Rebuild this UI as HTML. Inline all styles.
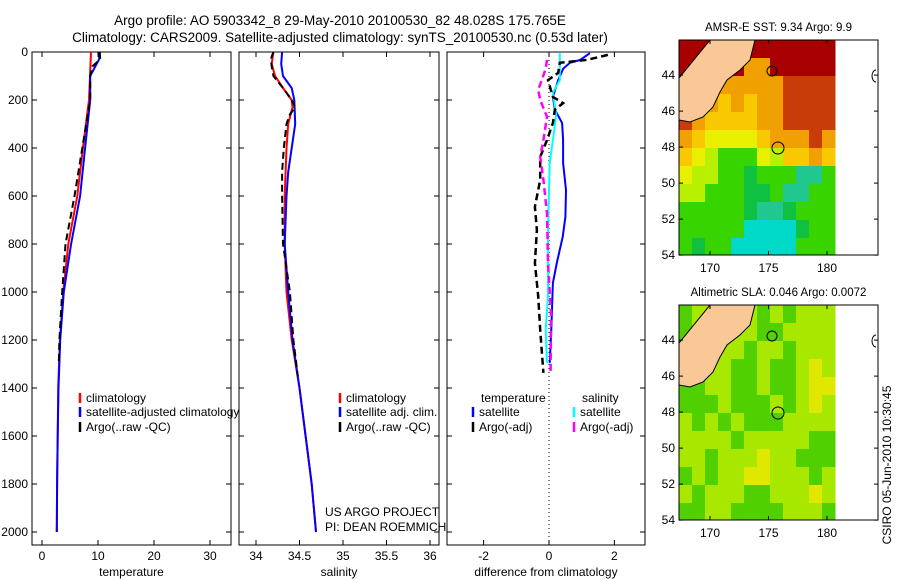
<!DOCTYPE html>
<html><head><meta charset="utf-8"><style>
body{margin:0;background:#fff;}
svg{display:block;font-family:"Liberation Sans",sans-serif;}
</style></head><body>
<svg id="fig" width="900" height="580" viewBox="0 0 900 580">
<text x="340" y="25" font-size="13.5" text-anchor="middle">Argo profile: AO 5903342_8 29-May-2010 20100530_82 48.028S 175.765E</text>
<text x="340" y="42" font-size="13.5" text-anchor="middle">Climatology: CARS2009. Satellite-adjusted climatology: synTS_20100530.nc (0.53d later)</text>
<text x="325" y="516" font-size="12">US ARGO PROJECT</text>
<text x="325" y="531" font-size="12">PI: DEAN ROEMMICH</text>
<text x="0" y="0" font-size="12" text-anchor="middle" transform="translate(891,465) rotate(-90)">CSIRO 05-Jun-2010 10:30:45</text>
<g id="g"></g>
</svg>
<script>
// ---- profile data (depth in dbar) ----
const climTDepth=[0,200,400,600,800,1000,1200,1400,1600,1800,2000];
const climT=[8.75,8.4,7.3,6.3,4.7,3.8,3.2,2.9,2.8,2.7,2.65];
const satTDepth=[0,30,100,200,400,600,800,1000,1200,1400,1600,1800,2000];
const satT=[10.3,10.2,8.6,8.6,7.7,6.8,5.2,3.9,3.25,2.95,2.8,2.7,2.65];
const argoTDepth=[0,30,60,100,200,400,600,800,1000,1200,1300];
const argoT=[10.3,10.4,9.0,8.6,8.6,7.2,5.8,4.2,3.6,3.1,3.0];
const climSDepth=[0,50,100,150,200,230,300,400,600,800,1000,1200,1400,1600,1800,2000];
const climS=[34.2,34.18,34.22,34.31,34.41,34.42,34.37,34.35,34.33,34.33,34.35,34.41,34.5,34.57,34.64,34.69];
const satSDepth=[0,50,100,150,200,300,400,500,600,800,1000,1200,1400,1600,1800,2000];
const satS=[34.3,34.29,34.31,34.41,34.44,34.45,34.41,34.37,34.35,34.33,34.37,34.42,34.5,34.57,34.64,34.69];
const argoSDepth=[0,30,60,100,150,200,230,260,300,400,500,600,800,1000,1200,1350];
const argoS=[34.2,34.17,34.18,34.2,34.31,34.41,34.45,34.39,34.35,34.32,34.3,34.3,34.31,34.39,34.43,34.48];
const dSatTDepth=[5,33,45,70,117,187,240,296,367,462,575,687,770,879,962,1158,1296];
const dSatT=[1.25,0.95,0.64,0.43,0.28,0.12,0.18,0.4,0.43,0.43,0.52,0.5,0.42,0.24,0.12,0.07,0.02];
const dSatSDepth=[5,117,170,262,367,462,742,1017,1158,1296];
const dSatS=[0.33,0.33,0.12,0.22,0.12,0.02,-0.03,-0.03,-0.1,-0.06];
const dArgoTDepth=[12,33,45,87,117,187,213,240,296,367,437,533,645,742,879,1017,1158,1337];
const dArgoT=[1.8,1.16,0.33,0.28,-0.03,0.12,0.43,0.18,0.12,-0.06,-0.27,-0.27,-0.43,-0.37,-0.43,-0.33,-0.27,-0.17];
const dArgoSDepth=[33,70,158,200,270,367,437,533,672,880,1088,1337];
const dArgoS=[-0.06,-0.1,-0.33,-0.27,-0.06,-0.17,-0.27,-0.17,-0.06,-0.03,0.06,0.05];
const depthTicks=[0,200,400,600,800,1000,1200,1400,1600,1800,2000];
const tTicks=[0,10,20,30];
const sTicks=[34,34.5,35,35.5,36];
const sTickLabels=["34","34.5","35","35.5","36"];
const dTicks=[-2,0,2];
// ---- map grids (rows lat 42..54, cols lon) ----
const sstRows=["RRRRRRRRRRRR","RRRRROORRRRR","OOOOOOOOBBBB","OOOoOoOOBBBB","BOooooOOBBBB","OoYYYYoOOOBO","oYyGGGYyooOo","YyyGGgGGGccG","yyGGGggGccGG","GGGGGgccgGGG","GGGGGCCCCgGG","GgGGCCCCCGGG"];
const slaRows=["GyyyyyGyGyyy","GyyyyyGGyyyy","GyyyyGyyGyyy","GGyyGGyGGyYy","GGyyGGyGGyYY","GGGyGGGyGyYy","yGyGyGGGyyyy","yyyyGyyyyyGG","yyGyyyYyyGGG","GyGyyYYyyyGy","yGyyyGGyyyYy","GGyyGGGGyyyG"];
const sstColors={R:"#a80000",B:"#c83c08",O:"#f0a000",o:"#f8c800",Y:"#e8f000",y:"#b8f000",G:"#38d400",g:"#10c040",C:"#00d8c8",c:"#20c890"};
const slaColors={y:"#a8e800",Y:"#e0e800",G:"#50d000"};
const latTicks=[44,46,48,50,52,54];
const lonTicks=[170,175,180];

const NS="http://www.w3.org/2000/svg";
const G=document.getElementById('g');
function el(tag,attrs,parent){const e=document.createElementNS(NS,tag);for(const k in attrs)e.setAttribute(k,attrs[k]);(parent||G).appendChild(e);return e;}
const Y0=52,PXD=48/200;
function yD(d){return Y0+d*PXD;}
const panels=[
 {x0:32,x1:231,f:v=>42+5.6*v,ticks:tTicks,labels:tTicks.map(String),xl:"temperature",name:"temperature"},
 {x0:239,x1:439,f:v=>256+87*(v-34),ticks:sTicks,labels:sTickLabels,xl:"salinity",name:"salinity"},
 {x0:447,x1:645,f:v=>549+32.7*v,ticks:dTicks,labels:dTicks.map(String),xl:"difference from climatology",name:"difference"}];
const YB=545;
panels.forEach((p,i)=>{
 const r=el('rect',{x:p.x0,y:Y0,width:p.x1-p.x0,height:YB-Y0,fill:'none',stroke:'#000','stroke-width':1});
 
 
 depthTicks.forEach(d=>{
  el('line',{x1:p.x0,x2:p.x0+5,y1:yD(d),y2:yD(d),stroke:'#000'});
  el('line',{x1:p.x1-5,x2:p.x1,y1:yD(d),y2:yD(d),stroke:'#000'});
  if(i===0){const t=el('text',{x:28,y:yD(d)+4,'font-size':12,'text-anchor':'end'});t.textContent=d;
   
   }
 });
 p.ticks.forEach((v,j)=>{const x=p.f(v);
  el('line',{x1:x,x2:x,y1:YB,y2:YB-5,stroke:'#000'});
  el('line',{x1:x,x2:x,y1:Y0,y2:Y0+5,stroke:'#000'});
  const t=el('text',{x:x,y:YB+15,'font-size':12,'text-anchor':'middle'});t.textContent=p.labels[j];
  
  });
 const xl=el('text',{x:(p.x0+p.x1)/2,y:576,'font-size':12,'text-anchor':'middle'});xl.textContent=p.xl;
 
 
});
const zl=el('line',{x1:549,x2:549,y1:Y0,y2:YB,stroke:'#000','stroke-dasharray':'1,3'});


function series(p,vals,deps,color,dash,w,name){
 const pts=vals.map((v,k)=>p.f(v).toFixed(1)+','+yD(deps[k]).toFixed(1)).join(' ');
 const pl=el('polyline',{points:pts,fill:'none',stroke:color,'stroke-width':w,'stroke-dasharray':dash||'none'});
 
 
}
const [P1,P2,P3]=panels;
series(P1,climT,climTDepth,'#f00','',2,'temperature-climatology-line');
series(P1,satT,satTDepth,'#00f','',2,'temperature-satellite-line');
series(P1,argoT,argoTDepth,'#000','7,4',2,'temperature-argo-line');
series(P2,climS,climSDepth,'#f00','',2,'salinity-climatology-line');
series(P2,satS,satSDepth,'#00f','',2,'salinity-satellite-line');
series(P2,argoS,argoSDepth,'#000','7,4',2,'salinity-argo-line');
series(P3,dSatT,dSatTDepth,'#00f','',2,'temperature-satellite-diff-line');
series(P3,dSatS,dSatSDepth,'#0ff','',2,'salinity-satellite-diff-line');
series(P3,dArgoT,dArgoTDepth,'#000','7,4',2.5,'temperature-argo-diff-line');
series(P3,dArgoS,dArgoSDepth,'#f0f','7,4',2.5,'salinity-argo-diff-line');
function leg(x,y,color,dash,label){
 const l=el('line',{x1:x,x2:x,y1:y-9,y2:y+1,stroke:color,'stroke-width':2.5});
 
 
 const t=el('text',{x:x+6,y:y,'font-size':12});t.textContent=label;
 
 
}
leg(80,402,'#f00','','climatology');leg(80,416,'#00f','','satellite-adjusted climatology');leg(80,431,'#000','','Argo(..raw -QC)');
leg(340,402,'#f00','','climatology');leg(340,416,'#00f','','satellite adj. clim.');leg(340,431,'#000','','Argo(..raw -QC)');
const th=el('text',{x:481,y:402,'font-size':12});th.textContent='temperature';


const sh=el('text',{x:582,y:402,'font-size':12});sh.textContent='salinity';


leg(473,416,'#00f','','satellite');leg(473,431,'#000','','Argo(-adj)');
leg(574,416,'#0ff','','satellite');leg(574,431,'#f0f','','Argo(-adj)');
function map(top,rows,colors,title,name){
 const fx=679,fw=199,fh=215,dataW=156,cw=dataW/12,rh=18;
 const tt=el('text',{x:fx+fw/2,y:top-9,'font-size':11.5,'text-anchor':'middle'});tt.textContent=title;
 
 
 rows.forEach((row,r)=>{for(let c=0;c<row.length;c++){
  const h=(r===rows.length-1)?fh-r*rh:rh;
  const rc=el('rect',{x:fx+c*cw,y:top+r*rh,width:cw+0.5,height:h+0.5,fill:colors[row[c]]});
  
  }});
 const land=[[710,40],[755,40],[750,60],[740,70],[727,80],[720,92],[713,107],[703,117],[690,122],[679,120],[679,78]].map(q=>q[0]+','+(q[1]-40+top)).join(' ');
 const lp=el('polygon',{points:land,fill:'#f9c896',stroke:'#000','stroke-width':1});
 
 
 const ci=el('circle',{cx:778,cy:top+108,r:6,fill:'none',stroke:'#000'});
 
 
 el('circle',{cx:772,cy:top+31,r:5,fill:'none',stroke:'#000'});
 el('path',{d:`M876 ${top+30} a4 6 0 0 0 0 12`,fill:'none',stroke:'#000'});
 const fr=el('rect',{x:fx,y:top,width:fw,height:fh,fill:'none',stroke:'#000'});
 
 
 latTicks.forEach(l=>{const y=top+(l-42.05)*18;
  el('line',{x1:fx,x2:fx+4,y1:y,y2:y,stroke:'#000'});el('line',{x1:fx+fw-4,x2:fx+fw,y1:y,y2:y,stroke:'#000'});
  const t=el('text',{x:fx-4,y:y+4,'font-size':12,'text-anchor':'end'});t.textContent=l;
  
  });
 lonTicks.forEach(l=>{const x=fx+(l-167.35)*11.7;
  el('line',{x1:x,x2:x,y1:top+fh,y2:top+fh-4,stroke:'#000'});el('line',{x1:x,x2:x,y1:top,y2:top+4,stroke:'#000'});
  const t=el('text',{x:x,y:top+fh+17,'font-size':12,'text-anchor':'middle'});t.textContent=l;
  
  });
}
map(40,sstRows,sstColors,'AMSR-E SST: 9.34 Argo: 9.9','sst-map');
map(305,slaRows,slaColors,'Altimetric SLA: 0.046 Argo: 0.0072','sla-map');
</script>
</body></html>
